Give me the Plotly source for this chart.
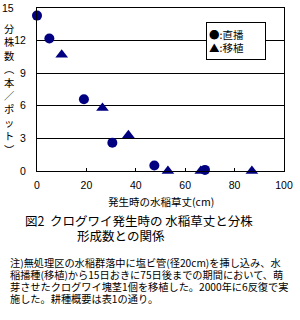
import plotly.graph_objects as go

# Data
direct_x = [0, 5, 19, 30.5, 47.5, 68]
direct_y = [14.3, 12.2, 6.6, 2.6, 0.5, 0.1]
trans_x = [10, 26.5, 37, 53, 66.3, 87]
trans_y = [10.7, 5.8, 3.3, 0.0, 0.0, 0.0]
x_ticks = [0, 20, 40, 60, 80, 100]
y_ticks = [0, 3, 6, 9, 12, 15]

W, H = 300, 320
L, R, T, B = 37, 293, 7, 171

def px(x):
    return (x - L) / (R - L)

def py(y):
    return (B - y) / (B - T)

JP = "Noto Sans CJK JP"
NUM = "Liberation Sans Narrow, Arial Narrow, Liberation Sans, Arial"
NAVY = "#000080"

fig = go.Figure()
fig.add_trace(go.Scatter(x=trans_x, y=trans_y, mode="markers", name="移植",
                         marker=dict(symbol="triangle-up", size=11, color=NAVY),
                         cliponaxis=False))
fig.add_trace(go.Scatter(x=direct_x, y=direct_y, mode="markers", name="直播",
                         marker=dict(symbol="circle", size=10, color=NAVY),
                         cliponaxis=False))

fig.update_layout(
    width=W, height=H,
    margin=dict(l=L, r=W - R, t=T, b=H - B),
    paper_bgcolor="white", plot_bgcolor="white",
    showlegend=False,
    font=dict(family=JP, size=11, color="black"),
)
fig.update_xaxes(range=[0, 100], tickvals=x_ticks, showgrid=False,
                 showline=True, linecolor="black", linewidth=1, mirror=True,
                 ticks="inside", ticklen=3, tickcolor="black",
                 tickfont=dict(family=NUM, size=10.5, color="black"),
                 ticklabelstandoff=4, ticklabeloverflow="allow",
                 zeroline=False, fixedrange=True)
fig.update_yaxes(range=[0, 15], tickvals=y_ticks,
                 ticktext=[str(v) for v in y_ticks[:-1]] + [""],
                 showgrid=True, gridcolor="black", gridwidth=1,
                 showline=True, linecolor="black", linewidth=1, mirror=True,
                 ticks="", tickfont=dict(family=NUM, size=10.5, color="black"),
                 ticklabelstandoff=8, zeroline=False, fixedrange=True)

ann = []
# the "15" label sits further left in the reference
ann.append(dict(xref="paper", yref="y", x=px(15.5), y=y_ticks[-1], text=str(y_ticks[-1]),
                xanchor="right", yanchor="middle", showarrow=False,
                font=dict(family=NUM, size=10.5)))
# vertical y-axis title
ytitle = "分株数︵本／ポット︶"
ann.append(dict(xref="paper", yref="paper", x=px(8), y=py(88),
                text="<br>".join(list(ytitle)), showarrow=False,
                xanchor="center", yanchor="middle", font=dict(family=JP, size=10.3)))
# x-axis title
ann.append(dict(xref="paper", yref="paper", x=px(165), y=py(202),
                text="発生時の水稲草丈(cm)", showarrow=False,
                xanchor="center", yanchor="middle", font=dict(family=JP, size=10.5)))
# legend box
ann.append(dict(xref="paper", yref="paper", x=px(243.5), y=py(40),
                text="●:直播<br>▲:移植", showarrow=False, align="left",
                xanchor="center", yanchor="middle", width=54, height=32,
                borderpad=2, bordercolor="black", borderwidth=1, bgcolor="white",
                font=dict(family=JP, size=10.5)))
# caption
ann.append(dict(xref="paper", yref="paper", x=px(23), y=py(221),
                text="図2  クログワイ発生時の 水稲草丈と分株", showarrow=False,
                xanchor="left", yanchor="middle", font=dict(family=JP, size=12.5)))
ann.append(dict(xref="paper", yref="paper", x=px(76), y=py(236),
                text="形成数との関係", showarrow=False,
                xanchor="left", yanchor="middle", font=dict(family=JP, size=12.5)))
# note
notes = ["注)無処理区の水稲群落中に塩ビ管(径20cm)を挿し込み、水",
         "稲播種(移植)から15日おきに75日後までの期間において、萌",
         "芽させたクログワイ塊茎1個を移植した。2000年に6反復で実",
         "施した。耕種概要は表1の通り。"]
for i, line in enumerate(notes):
    ann.append(dict(xref="paper", yref="paper", x=px(7), y=py(263 + i * 12),
                    text=line, showarrow=False, xanchor="left", yanchor="middle",
                    font=dict(family=JP, size=10.2)))
fig.update_layout(annotations=ann)

fig.write_html("out.html")
